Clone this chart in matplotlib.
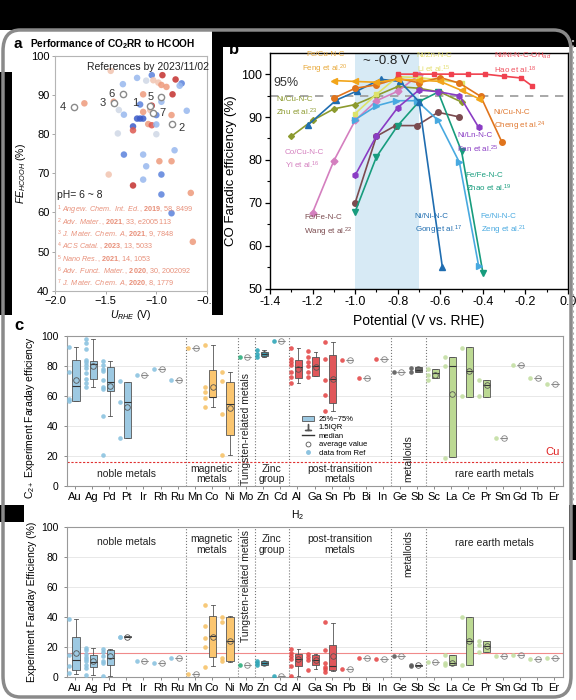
import matplotlib
matplotlib.use("Agg")
import matplotlib.pyplot as plt
import numpy as np
from matplotlib.lines import Line2D
from matplotlib.patches import FancyBboxPatch, Patch, Rectangle

plt.rcParams["font.family"] = ["Liberation Sans", "DejaVu Sans"]
plt.rcParams["mathtext.fontset"] = "custom"
plt.rcParams["mathtext.rm"] = "Liberation Sans"
plt.rcParams["mathtext.it"] = "Liberation Sans:italic"
plt.rcParams["mathtext.bf"] = "Liberation Sans:bold"

W, H = 576, 700

# ---------------- panel a : HCOOH scatter ----------------
fe_x = [-1.45, -1.045, -0.94, -1.33, -1.19, -1.10, -1.03, -0.98, -0.95, -0.81, -0.75, -0.77,
        -0.90, -1.13, -0.84, -0.95, -1.16, -1.045, -1.42, -1.71, -1.37, -1.32, -1.13, -1.06,
        -1.00, -0.85, -0.70, -1.19, -1.16, -1.13, -1.23, -1.23, -1.08, -1.045, -1.00, -1.00,
        -1.38, -0.82, -1.32, -1.13, -0.97, -0.85, -1.10, -0.95, -1.47, -1.13, -1.23, -0.66,
        -0.95, -0.85, -0.64]
fe_y = [96.2, 95.1, 95.1, 92.8, 94.4, 93.7, 93.8, 93.2, 92.6, 94.0, 93.0, 92.4,
        92.1, 90.2, 90.2, 88.3, 87.6, 87.3, 88.3, 87.9, 86.2, 85.0, 85.7, 86.2,
        84.9, 84.9, 86.0, 84.0, 84.0, 84.0, 82.0, 81.0, 82.6, 82.3, 82.5, 80.0,
        80.2, 75.9, 74.8, 74.8, 73.1, 73.1, 71.8, 69.7, 69.7, 68.4, 66.9, 65.0,
        64.6, 59.8, 52.5]
fe_tone = [4, 1, 7, 2, 2, 3, 4, 4, 5, 7, 1, 2,
           5, 5, 7, 2, 1, 7, 5, 5, 3, 2, 5, 4,
           1, 5, 2, 0, 0, 0, 0, 6, 5, 6, 2, 3,
           3, 2, 1, 2, 5, 5, 2, 1, 4, 2, 7, 5,
           1, 1, 5]
tone_colors = ["#3b5bc8", "#5a82dc", "#98b8ee", "#cfd8e6", "#f2c4b0", "#ee9a7c", "#dd5850", "#c4302e"]

ref_x = [-1.06, -0.85, -1.42, -1.81, -0.95, -1.33, -1.035]
ref_y = [87.2, 82.7, 88.0, 87.0, 89.4, 90.3, 85.5]
ref_num = ["1", "2", "3", "4", "5", "6", "7"]
ref_journal = [r"Angew.\ Chem.\ Int.\ Ed.", r"Adv.\ Mater.", r"J.\ Mater.\ Chem.\ A",
               r"ACS\ Catal.", r"Nano\ Res.", r"Adv.\ Funct.\ Mater.", r"J.\ Mater.\ Chem.\ A"]
ref_year = ["2019", "2021", "2021", "2023", "2021", "2020", "2020"]
ref_rest = ["58, 8499", "33, e2005113", "9, 7848", "13, 5033", "14, 1053", "30, 2002092", "8, 1779"]

# ---------------- panel b : CO faradaic efficiency ----------------
hao_x = [-0.80, -0.72, -0.63, -0.55, -0.47, -0.39, -0.30, -0.22, -0.17]
hao_y = [100, 100, 100, 100, 100, 100, 99.5, 99.1, 97.3]
feng_x = [-1.10, -1.00, -0.90, -0.80, -0.70, -0.60, -0.50, -0.42]
feng_y = [98.5, 98.3, 98.1, 98.8, 98.6, 98.3, 96.2, 94.3]
li_x = [-1.00, -0.90, -0.80, -0.70, -0.60, -0.50]
li_y = [90.8, 95.3, 99.4, 99.2, 98.6, 98.0]
zhu_x = [-1.30, -1.20, -1.10, -1.00, -0.90, -0.80, -0.70, -0.60, -0.50]
zhu_y = [85.5, 89.2, 91.9, 92.9, 95.0, 97.1, 96.7, 95.8, 93.5]
cheng_x = [-1.10, -1.00, -0.90, -0.80, -0.70, -0.60, -0.51, -0.41, -0.31]
cheng_y = [94.4, 96.7, 97.5, 99.0, 98.0, 99.2, 97.9, 94.8, 84.1]
fan_x = [-1.00, -0.90, -0.80, -0.70, -0.61, -0.51, -0.42]
fan_y = [76.4, 85.6, 92.2, 96.3, 95.9, 95.0, 87.6]
yi_x = [-1.20, -1.10, -1.00, -0.90, -0.80, -0.70]
yi_y = [67.7, 79.8, 89.2, 93.8, 96.0, 99.8]
zhao_x = [-1.00, -0.90, -0.80, -0.70, -0.61, -0.50, -0.40]
zhao_y = [67.9, 80.7, 88.0, 93.6, 95.8, 82.0, 53.7]
gong_x = [-1.22, -1.09, -0.99, -0.88, -0.79, -0.70, -0.59]
gong_y = [88.2, 93.9, 96.1, 98.8, 98.3, 93.6, 54.9]
zeng_x = [-1.00, -0.90, -0.81, -0.71, -0.61, -0.51, -0.42]
zeng_y = [89.4, 92.6, 93.8, 93.8, 89.2, 79.4, 55.3]
wang_x = [-1.00, -0.90, -0.81, -0.71, -0.61, -0.51]
wang_y = [70.0, 85.5, 88.0, 88.0, 91.1, 90.0]

# ---------------- panel c : box plots per metal ----------------
metals = ["Au", "Ag", "Pd", "Pt", "Ir", "Rh", "Ru", "Mn", "Co", "Ni", "Mo", "Zn", "Cd", "Al", "Ga",
          "Sn", "Pb", "Bi", "In", "Ge", "Sb", "Sc", "La", "Ce", "Pr", "Sm", "Gd", "Tb", "Er"]
groups = [0] * 7 + [1] * 3 + [2] + [3] * 2 + [4] * 6 + [5] * 2 + [6] * 8
group_edges = [6.5, 9.5, 10.5, 12.5, 18.5, 20.5]
box_fill = ["#9dc9e2", "#fbc670", "#3cb08a", "#3a9fb5", "#e0575a", "#6b6b6b", "#bcd993"]
dot_fill = ["#8cc3e0", "#f7c36a", "#2fae7e", "#31a7b8", "#e54b4b", "#5c5c5c", "#c4dea3"]

c2_q1 = [57, 71.1, 63.5, 31.8, 74, 78, 71, 92, 59.1, 34, 86, 86.5, 97, 71.8, 73.3,
         55.1, 84, 72, 85, 76, 76.2, 71.8, 19.1, 59.6, 59.6, 32, 81, 72, 68]
c2_q3 = [84, 83.5, 79.5, 69.5, 74, 78, 71, 92, 77.3, 69.5, 86, 89.5, 97, 84, 85.8,
         87.3, 84, 72, 85, 76, 79.5, 77.8, 85.8, 92.4, 70.7, 32, 81, 72, 68]
c2_med = [66.7, 81.3, 69.5, 56.2, 74, 78, 71, 92, 59.6, 54.7, 86, 88, 97, 79.5, 80,
          71.1, 84, 72, 85, 76, 77.5, 75.6, 80, 76.7, 67.3, 32, 81, 72, 68]
c2_mean = [70.7, 80, 66.7, 52.9, 74, 78, 71, 92, 66.2, 51.8, 86, 88, 97, 78, 79.6,
           71.1, 84, 72, 85, 76, 77.8, 74.2, 61.3, 76.7, 67.3, 32, 81, 72, 68]
c2_lo = [57, 65.8, 46.7, 31.8, 74, 78, 71, 92, 52.9, 20.7, 86, 86, 97, 68.9, 73.3,
         50.2, 84, 72, 85, 76, 76.2, 71.8, 19.1, 59.6, 59.6, 32, 81, 72, 68]
c2_hi = [93, 97.8, 83.5, 69.5, 74, 78, 71, 92, 94, 76.2, 86, 91, 97, 91.8, 89.6,
         95.8, 84, 72, 85, 76, 79.5, 77.8, 85.8, 92.4, 70.7, 32, 81, 72, 68]
c2_pts = [[93, 76, 58, 57], [97.8, 95.3, 91.1, 84, 82.7, 80.7, 78.4, 75.6, 71.1, 69, 65.8],
          [83.5, 81, 78, 76.5, 70.7, 65.8, 64.7, 46.7, 20.7], [70, 56, 32], [74], [78], [71],
          [92], [94, 66, 63, 59, 53], [76, 70, 48, 21], [86], [91, 88, 86], [97],
          [92, 85, 83, 81, 76, 73, 69], [90, 86, 83, 80, 76, 73], [96, 85, 71, 61, 50],
          [84], [72], [85], [76], [79, 76], [78, 74, 71], [86, 80, 19], [92, 60], [71, 60],
          [32], [81], [72], [68]]

h2_q1 = [4.9, 6.7, 8.2, 26.6, 10.4, 9.3, 12.7, 2, 13.3, 10.4, 8, 8.2, 0.5, 7.6, 7.8,
         4.4, 5.3, 13, 12.2, 14.2, 7.4, 10, 8.2, 8.2, 16.4, 13.8, 15, 12, 13]
h2_q3 = [27, 14.4, 17.8, 27.4, 10.4, 9.3, 12.7, 2, 40.9, 39.8, 8, 10.4, 0.5, 15.6, 14.4,
         21.6, 5.3, 13, 12.2, 14.2, 8.0, 10, 14.4, 40, 23.8, 13.8, 15, 12, 13]
h2_med = [11.1, 10, 12.7, 27, 10.4, 9.3, 12.7, 2, 27.1, 24.2, 8, 9.3, 0.5, 12, 11.6,
          7.1, 5.3, 13, 12.2, 14.2, 7.7, 10, 9.3, 24.2, 20.9, 13.8, 15, 12, 13]
h2_mean = [16, 10.4, 13.8, 27, 10.4, 9.3, 12.7, 2, 27, 23.8, 8, 9.4, 0.5, 12, 11.6,
           13.8, 5.3, 13, 12.2, 14.2, 7.7, 10, 9.3, 24.2, 20.6, 13.8, 15, 12, 13]
h2_lo = [2.2, 1.6, 0.4, 26.6, 10.4, 9.3, 12.7, 2, 7.1, 10, 8, 8.0, 0.5, 0.4, 5.3,
         3.8, 5.3, 13, 12.2, 14.2, 7.4, 10, 8.2, 8.2, 16.4, 13.8, 15, 12, 13]
h2_hi = [38.7, 19.3, 18.7, 27.4, 10.4, 9.3, 12.7, 2, 48.2, 40.4, 8, 11, 0.5, 18.7, 15.6,
         36, 5.3, 13, 12.2, 14.2, 8.0, 10, 14.4, 40, 23.8, 13.8, 15, 12, 13]
h2_pts = [[38.7, 15, 7.5, 2.5], [19.3, 18, 15.5, 13.5, 12, 10.5, 8, 6, 1.5],
          [18.7, 16.5, 14, 11, 9.5, 1], [27, 27], [10.4], [9.3], [12.7], [2],
          [48, 34, 26, 20, 7], [40, 37, 12.7, 10.4], [8], [11, 9.3, 8], [0.5],
          [18.7, 16, 13.8, 12, 7.6, 0.4], [15.3, 13.3, 11.6, 5], [36.4, 17.8, 9.3, 7, 5.3, 3.3],
          [5.3], [13], [12.2], [14.2], [7.8, 7.5], [10], [14.4, 9.3, 8.2], [40, 8.2],
          [23.8, 21.6, 16.4], [13.8], [15], [12], [13]]


def frac(x0, y0, x1, y1):
    return [x0 / W, 1 - y1 / H, (x1 - x0) / W, (y1 - y0) / H]


def fig_rect(fig, x0, y0, x1, y1, color, z):
    fig.add_artist(Rectangle((x0 / W, 1 - y1 / H), (x1 - x0) / W, (y1 - y0) / H,
                             transform=fig.transFigure, facecolor=color, edgecolor="none", zorder=z))


def draw_boxes(ax, q1, q3, med, mean, lo, hi, pts):
    stats = [dict(q1=a, q3=b, med=m, mean=mu, whislo=l, whishi=h, fliers=[])
             for a, b, m, mu, l, h in zip(q1, q3, med, mean, lo, hi)]
    pos = np.arange(len(metals))
    bp = ax.bxp(stats, positions=pos + 0.06, widths=0.42, patch_artist=True, showmeans=True,
                showfliers=False, manage_ticks=False, capwidths=0.22,
                boxprops=dict(linewidth=0.6, edgecolor="#555555"),
                whiskerprops=dict(color="#555555", linewidth=0.6),
                capprops=dict(color="#555555", linewidth=0.6),
                medianprops=dict(color="#333333", linewidth=0.8),
                meanprops=dict(marker="o", markerfacecolor="none", markeredgecolor="#555555",
                               markersize=4, markeredgewidth=0.6),
                zorder=3)
    for i, patch in enumerate(bp["boxes"]):
        if len(pts[i]) == 1:
            patch.set_facecolor("none")
            patch.set_edgecolor("#888888")
            bp["medians"][i].set_color("#888888")
            bp["means"][i].set_markeredgecolor("#888888")
        else:
            patch.set_facecolor(box_fill[groups[i]])
    for i, vals in enumerate(pts):
        ax.scatter([i - 0.38] * len(vals), vals, s=11, color=dot_fill[groups[i]],
                   alpha=0.9, linewidths=0, zorder=4)
    for xg in group_edges:
        ax.axvline(xg, color="#777777", ls=":", lw=0.8, zorder=1)
    ax.set_xlim(-0.5, len(metals) - 0.5)
    ax.set_ylim(0, 100)
    ax.set_xticks(pos)
    ax.set_xticklabels(metals, fontsize=8)
    ax.set_yticks([0, 20, 40, 60, 80, 100])
    ax.tick_params(axis="y", labelsize=7.5, length=2.5, width=0.6, color="#777777")
    ax.tick_params(axis="x", length=2.5, width=0.6, color="#777777", pad=2)
    ax.grid(axis="y", color="#e4e4e4", lw=0.6, zorder=0)
    ax.set_axisbelow(True)
    for sp in ax.spines.values():
        sp.set_color("#999999")
        sp.set_linewidth(0.8)


fig = plt.figure(figsize=(W / 100, H / 100), dpi=100)
fig.patch.set_facecolor("white")

# frame decorations
fig_rect(fig, 0, 0, W, 30, "black", 5)
fig_rect(fig, 0, 72, 12, 315, "black", 5)
fig_rect(fig, 212, 30, 223, 315, "black", 5)
fig_rect(fig, 212, 30, W, 47, "black", 5)
fig_rect(fig, 0, 505, 24, 522, "black", 5)
fig_rect(fig, 569, 505, W, 560, "black", 5)
fig.add_artist(FancyBboxPatch((3 / W, 1 - 697 / H), 568 / W, 667 / H,
                              boxstyle="round,pad=0,rounding_size=0.03", transform=fig.transFigure,
                              facecolor="none", edgecolor="#8a8a8a", lw=2.5, zorder=6))
fig.add_artist(Line2D([572.5 / W, 572.5 / W], [1 - 40 / H, 1 - 505 / H], transform=fig.transFigure,
                      color="#aaaaaa", ls=":", lw=1.5, zorder=6))

# ---- panel a ----
axa = fig.add_axes(frac(55, 56, 207, 290.7))
axa.scatter(fe_x, fe_y, s=22, c=[tone_colors[t] for t in fe_tone], alpha=0.85, linewidths=0, zorder=2)
axa.plot(ref_x, ref_y, ls="none", marker="o", ms=4.5, mfc="white", mec="#8a8a8a", mew=1.0, zorder=3)
label_offsets = {"1": (-11, 2), "2": (7, -3), "3": (-8, 0), "4": (-8, 0), "5": (-8, 0),
                 "6": (-8, 0), "7": (7, 0)}
for x, y, n in zip(ref_x, ref_y, ref_num):
    axa.annotate(n, (x, y), xytext=label_offsets[n], textcoords="offset points",
                 ha="center", va="center", fontsize=8, color="#333333")
axa.set_xlim(-2.0, -0.5)
axa.set_ylim(40, 100)
axa.set_xticks([-2.0, -1.5, -1.0, -0.5])
axa.set_yticks([40, 50, 60, 70, 80, 90, 100])
axa.tick_params(labelsize=8, length=2.5, width=0.6, color="#999999", pad=1.5)
for sp in axa.spines.values():
    sp.set_color("#b5b5b5")
    sp.set_linewidth(0.8)
axa.set_xlabel(r"$U_{RHE}$ (V)", fontsize=7.5, labelpad=1)
axa.set_ylabel(r"$FE_{HCOOH}$ (%)", fontsize=7.5, labelpad=2)
axa.text(0.61, 0.975, "References by 2023/11/02", transform=axa.transAxes, ha="center", va="top",
         fontsize=7.5, color="#222222")
axa.text(-1.98, 64.5, "pH= 6 ~ 8", ha="left", va="center", fontsize=7.5, color="#222222")
ref_lines = [r"$^{%s}$ $\mathit{%s}$, $\mathbf{%s}$, %s" % (n, jn, yr, rest)
             for n, jn, yr, rest in zip(ref_num, ref_journal, ref_year, ref_rest)]
axa.text(-1.98, 40.2, "\n".join(ref_lines), ha="left", va="bottom", fontsize=5.2,
         color="#e8907a", linespacing=1.0)
fig.text(14 / W, 1 - 44 / H, "a", fontsize=11, fontweight="bold", va="center", ha="left", zorder=7)
fig.text(30 / W, 1 - 44 / H, r"Performance of CO$_\mathbf{2}$RR to HCOOH", fontsize=7.3,
         fontweight="bold", va="center", ha="left")

# ---- panel b ----
axb = fig.add_axes(frac(270, 52.7, 568, 288.5))
axb.axvspan(-1.0, -0.7, color="#d7eaf5", lw=0, zorder=0)
axb.axhline(95, color="#999999", ls=(0, (5, 4)), lw=1.2, zorder=1)
series = [
    (zhu_x, zhu_y, "#8c9a2e", "D", 3),
    (yi_x, yi_y, "#d47fbf", "D", 3.5),
    (wang_x, wang_y, "#7b4b4f", "o", 4),
    (zhao_x, zhao_y, "#179c7d", "v", 4),
    (zeng_x, zeng_y, "#48a9e0", ">", 4),
    (fan_x, fan_y, "#8a3cc4", "h", 4),
    (gong_x, gong_y, "#1f6db0", "^", 4),
    (li_x, li_y, "#dde36a", "s", 3.5),
    (cheng_x, cheng_y, "#e0741c", "o", 4),
    (feng_x, feng_y, "#f2a51a", "<", 4),
    (hao_x, hao_y, "#f0414f", "s", 3.5),
]
for xs, ys, col, mk, ms in series:
    axb.plot(xs, ys, color=col, marker=mk, ms=ms, lw=1.2, zorder=3)
axb.set_xlim(-1.4, 0.0)
axb.set_ylim(50, 105)
axb.set_xticks(np.arange(-1.4, 0.01, 0.2))
axb.set_xticklabels(["-1.4", "-1.2", "-1.0", "-0.8", "-0.6", "-0.4", "-0.2", "0.0"])
axb.set_xticks(np.arange(-1.3, 0.0, 0.2), minor=True)
axb.set_yticks([50, 60, 70, 80, 90, 100])
axb.set_yticks([55, 65, 75, 85, 95], minor=True)
axb.tick_params(labelsize=9, length=3.5, width=0.9, pad=2)
axb.tick_params(which="minor", length=2, width=0.8)
for sp in axb.spines.values():
    sp.set_linewidth(1.0)
axb.set_xlabel("Potential (V vs. RHE)", fontsize=10, labelpad=4)
axb.set_ylabel("CO Faradic efficiency (%)", fontsize=9.5, labelpad=3)
axb.text(-1.385, 96.6, "95%", fontsize=9, color="#333333", ha="left", va="bottom")
axb.text(-0.855, 101.6, "~ -0.8 V", fontsize=9.5, color="#222222", ha="center", va="bottom")
b_labels = [
    ("Fe/Cu-N-C\nFeng et al.$^{20}$", -1.14, 102.5, "#e8a838", "center"),
    ("Ni/Zn-N-C\nLi et al.$^{15}$", -0.71, 102.5, "#e4df6e", "left"),
    ("Ni/Ni-N-C-OH$_{ad}$\nHao et al.$^{18}$", -0.35, 102.5, "#f0505e", "left"),
    ("Ni/Cu-N-C\nZhu et al.$^{23}$", -1.37, 92.3, "#8c9a2e", "left"),
    ("Ni/Cu-N-C\nCheng et al.$^{24}$", -0.35, 89.1, "#e07830", "left"),
    ("Ni/Ln-N-C\nFan et al.$^{25}$", -0.52, 83.9, "#8a3cc4", "left"),
    ("Co/Cu-N-C\nYi et al.$^{16}$", -1.33, 80.0, "#d47fbf", "left"),
    ("Fe/Fe-N-C\nZhao et al.$^{19}$", -0.48, 74.6, "#179c7d", "left"),
    ("Fe/Fe-N-C\nWang et al.$^{22}$", -1.24, 64.4, "#7b4b4f", "left"),
    ("Ni/Ni-N-C\nGong et al.$^{17}$", -0.72, 64.8, "#1f6db0", "left"),
    ("Fe/Ni-N-C\nZeng et al.$^{21}$", -0.41, 64.8, "#48a9e0", "left"),
]
for txt, x, y, col, ha in b_labels:
    axb.text(x, y, txt, fontsize=5.8, color=col, ha=ha, va="center", linespacing=1.5, zorder=4)
fig.text(234 / W, 1 - 50 / H, "b", fontsize=12, fontweight="bold", va="center", ha="center", zorder=4)

# ---- panel c (C2+) ----
axc = fig.add_axes(frac(66.5, 336, 562.5, 486))
draw_boxes(axc, c2_q1, c2_q3, c2_med, c2_mean, c2_lo, c2_hi, c2_pts)
axc.axhline(16, color="#e03030", ls=(0, (2, 1.5)), lw=0.8, zorder=2)
axc.text(27.9, 19.5, "Cu", color="#e02020", fontsize=8, ha="center", va="bottom")
axc.text(-0.074, 0.46, "C$_{2+}$ Experiment Faraday efficiency", transform=axc.transAxes,
         rotation=90, ha="center", va="center", fontsize=7.5)
top_groups = [
    ("noble metals", 3.0, 8, 0),
    ("magnetic\nmetals", 8.0, 8, 0),
    ("Tungsten-related metals", 10.0, 38, 90),
    ("Zinc\ngroup", 11.5, 8, 0),
    ("post-transition\nmetals", 15.5, 8, 0),
    ("metalloids", 19.5, 18, 90),
    ("rare earth metals", 24.5, 8, 0),
]
for txt, x, y, rot in top_groups:
    axc.text(x, y, txt, ha="center", va="center", rotation=rot, fontsize=7.5, linespacing=1.1,
             color="#222222", zorder=5)
legend_handles = [
    Patch(facecolor="#9dc9e2", edgecolor="#555555", lw=0.6),
    Line2D([], [], ls="none", marker=r"$\perp$", color="#555555", ms=5),
    Line2D([], [], color="#333333", lw=1.0),
    Line2D([], [], ls="none", marker="o", mfc="none", mec="#555555", ms=3.5, mew=0.6),
    Line2D([], [], ls="none", marker="o", color="#8cc3e0", ms=2.5),
]
axc.legend(legend_handles, ["25%~75%", "1.5IQR", "median", "average value", "data from Ref"],
           loc="upper left", bbox_to_anchor=(0.465, 0.5), frameon=False, fontsize=5.5,
           handlelength=1.6, handletextpad=0.6, labelspacing=0.15, borderpad=0.1)
fig.text(14 / W, 1 - 326 / H, "c", fontsize=12, fontweight="bold", va="center", ha="left")

# ---- panel c (H2) ----
axh = fig.add_axes(frac(66.5, 527, 562.5, 677))
draw_boxes(axh, h2_q1, h2_q3, h2_med, h2_mean, h2_lo, h2_hi, h2_pts)
axh.axhline(16, color="#f08a8a", lw=0.8, zorder=2)
axh.text(13.0, 103, "H$_2$", ha="center", va="bottom", fontsize=7.5)
axh.set_ylabel("Experiment Faraday Efficiency (%)", fontsize=7.5, labelpad=3)
bottom_groups = [
    ("noble metals", 3.0, 90, 0, "center"),
    ("magnetic\nmetals", 8.0, 88.5, 0, "center"),
    ("Tungsten-related metals", 10.0, 98, 90, "top"),
    ("Zinc\ngroup", 11.5, 88.5, 0, "center"),
    ("post-transition\nmetals", 15.5, 88.5, 0, "center"),
    ("metalloids", 19.5, 98, 90, "top"),
    ("rare earth metals", 24.5, 89.5, 0, "center"),
]
for txt, x, y, rot, va in bottom_groups:
    axh.text(x, y, txt, ha="center", va=va, rotation=rot, fontsize=7.5, linespacing=1.1,
             color="#222222", zorder=5)

fig.savefig("out.png", dpi=100)
